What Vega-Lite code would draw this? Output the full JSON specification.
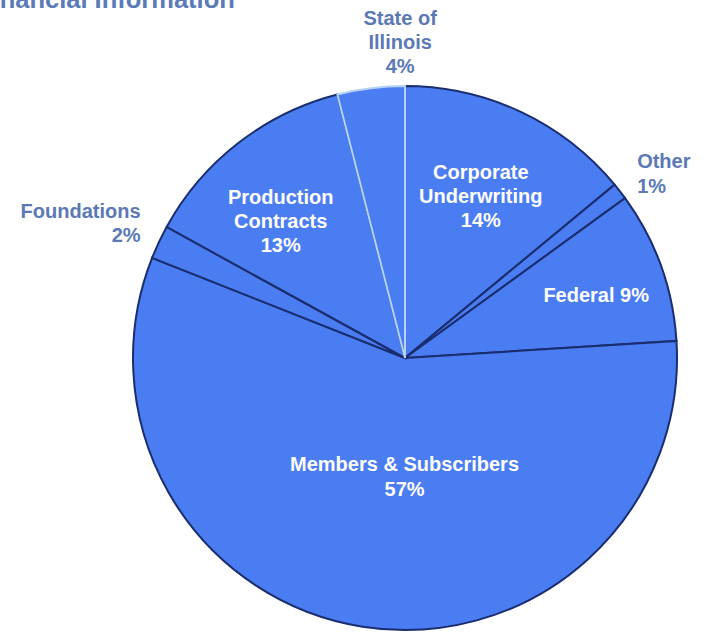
{
  "$schema": "https://vega.github.io/schema/vega-lite/v6.json",
  "width": 544,
  "height": 544,
  "autosize": {"type": "none"},
  "padding": {"left": 133, "top": 86, "right": 29, "bottom": 12},
  "background": "white",
  "title": {
    "text": "Financial Information",
    "anchor": "start",
    "frame": "group",
    "baseline": "alphabetic",
    "offset": 0,
    "dx": -156,
    "dy": 25,
    "font": "Liberation Sans",
    "fontSize": 25.5,
    "fontWeight": "bold",
    "color": "#5b7bb8"
  },
  "config": {"view": {"stroke": null}},
  "data": {
    "values": [
      {"i": 1, "cat": "Corporate Underwriting", "value": 14, "label": "Corporate\nUnderwriting\n14%"},
      {"i": 2, "cat": "Other", "value": 1, "label": "Other\n1%"},
      {"i": 3, "cat": "Federal", "value": 9, "label": "Federal 9%"},
      {"i": 4, "cat": "Members & Subscribers", "value": 57, "label": "Members & Subscribers\n57%"},
      {"i": 5, "cat": "Foundations", "value": 2, "label": "Foundations\n2%"},
      {"i": 6, "cat": "Production Contracts", "value": 13, "label": "Production\nContracts\n13%"},
      {"i": 7, "cat": "State of Illinois", "value": 4, "label": "State of\nIllinois\n4%"}
    ]
  },
  "encoding": {
    "theta": {"field": "value", "type": "quantitative", "stack": true},
    "detail": {"field": "cat", "type": "nominal"},
    "order": {"field": "i", "type": "quantitative"}
  },
  "layer": [
    {
      "mark": {"type": "arc", "outerRadius": 272, "fill": "#4a7cf2", "strokeWidth": 2},
      "encoding": {
        "stroke": {"condition": {"test": "datum.cat === 'State of Illinois'", "value": "#b4d2f5"}, "value": "#1a2d6e"}
      }
    },
    {
      "mark": {"type": "text", "radius": 178, "dx": 0, "dy": -24, "align": "center", "baseline": "middle", "lineBreak": "\n", "lineHeight": 24, "font": "Liberation Sans", "fontSize": 20, "fontWeight": "bold", "fill": "white"},
      "encoding": {"text": {"condition": {"test": "datum.cat === 'Corporate Underwriting'", "field": "label"}, "value": ""}}
    },
    {
      "mark": {"type": "text", "radius": 290, "dx": 3, "dy": -18, "align": "left", "baseline": "middle", "lineBreak": "\n", "lineHeight": 25, "font": "Liberation Sans", "fontSize": 20, "fontWeight": "bold", "fill": "#5b79b5"},
      "encoding": {"text": {"condition": {"test": "datum.cat === 'Other'", "field": "label"}, "value": ""}}
    },
    {
      "mark": {"type": "text", "radius": 200, "dx": 3, "dy": 6, "align": "center", "baseline": "middle", "lineBreak": "\n", "lineHeight": 24, "font": "Liberation Sans", "fontSize": 20, "fontWeight": "bold", "fill": "white"},
      "encoding": {"text": {"condition": {"test": "datum.cat === 'Federal'", "field": "label"}, "value": ""}}
    },
    {
      "mark": {"type": "text", "radius": 118, "dx": 18, "dy": -10, "align": "center", "baseline": "middle", "lineBreak": "\n", "lineHeight": 25, "font": "Liberation Sans", "fontSize": 20, "fontWeight": "bold", "fill": "white"},
      "encoding": {"text": {"condition": {"test": "datum.cat === 'Members & Subscribers'", "field": "label"}, "value": ""}}
    },
    {
      "mark": {"type": "text", "radius": 290, "dx": -2, "dy": -23, "align": "right", "baseline": "middle", "lineBreak": "\n", "lineHeight": 24, "font": "Liberation Sans", "fontSize": 20, "fontWeight": "bold", "fill": "#5b79b5"},
      "encoding": {"text": {"condition": {"test": "datum.cat === 'Foundations'", "field": "label"}, "value": ""}}
    },
    {
      "mark": {"type": "text", "radius": 180, "dx": -14, "dy": -18, "align": "center", "baseline": "middle", "lineBreak": "\n", "lineHeight": 24, "font": "Liberation Sans", "fontSize": 20, "fontWeight": "bold", "fill": "white"},
      "encoding": {"text": {"condition": {"test": "datum.cat === 'Production Contracts'", "field": "label"}, "value": ""}}
    },
    {
      "mark": {"type": "text", "radius": 318, "dx": 35, "dy": -24, "align": "center", "baseline": "middle", "lineBreak": "\n", "lineHeight": 24, "font": "Liberation Sans", "fontSize": 20, "fontWeight": "bold", "fill": "#5b79b5"},
      "encoding": {"text": {"condition": {"test": "datum.cat === 'State of Illinois'", "field": "label"}, "value": ""}}
    }
  ]
}
